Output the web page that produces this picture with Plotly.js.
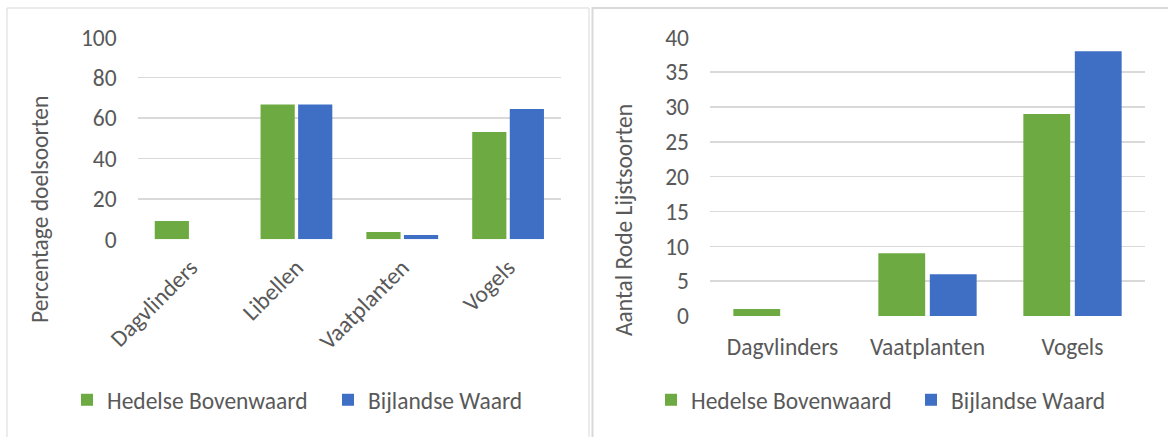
<!DOCTYPE html>
<html>
<head>
<meta charset="utf-8">
<script src="https://cdn.plot.ly/plotly-3.0.1.min.js"></script>
<style>
html,body{margin:0;padding:0;background:#fff;}
#chart{width:1168px;height:437px;}
</style>
</head>
<body>
<div id="chart"></div>
<script>
// ---- data ----
const seriesNames = ["Hedelse Bovenwaard", "Bijlandse Waard"];
const catsPct = ["Dagvlinders", "Libellen", "Vaatplanten", "Vogels"];
const pctHedelse = [9, 66.7, 3.6, 53.1];
const pctBijlandse = [0, 66.7, 2.1, 64.5];
const catsRL = ["Dagvlinders", "Vaatplanten", "Vogels"];
const rlHedelse = [1, 9, 29];
const rlBijlandse = [0, 6, 38];
const yTitleLeft = "Percentage doelsoorten";
const yTitleRight = "Aantal Rode Lijstsoorten";

// ---- styling ----
const W = 1168, H = 437;
const fx = p => p / W;
const fy = p => (H - p) / H;
const GREEN = "#6DAB42", BLUE = "#3F6EC5";
const TXT = "#595959", GRID = "#D9D9D9";
const FONT = "Carlito, Lato, sans-serif";
const FS = 23.5;

const traces = [
  {type: "bar", x: catsPct, y: pctHedelse, name: seriesNames[0], xaxis: "x", yaxis: "y",
   marker: {color: GREEN}, legend: "legend"},
  {type: "bar", x: catsPct, y: pctBijlandse, name: seriesNames[1], xaxis: "x", yaxis: "y",
   marker: {color: BLUE}, legend: "legend2"},
  {type: "bar", x: catsRL, y: rlHedelse, name: seriesNames[0], xaxis: "x2", yaxis: "y2",
   marker: {color: GREEN}, legend: "legend3"},
  {type: "bar", x: catsRL, y: rlBijlandse, name: seriesNames[1], xaxis: "x2", yaxis: "y2",
   marker: {color: BLUE}, legend: "legend4"}
];
traces.forEach(t => { t.hoverinfo = "y"; t.showlegend = true; });

const legendBase = {
  orientation: "h", xanchor: "left", yanchor: "middle", y: fy(400),
  font: {family: FONT, size: FS, color: TXT}, bgcolor: "rgba(0,0,0,0)", borderwidth: 0
};

const axisFont = {family: FONT, size: FS, color: TXT};

const layout = {
  width: W, height: H,
  margin: {l: 0, r: 0, t: 0, b: 0},
  paper_bgcolor: "#fff", plot_bgcolor: "rgba(0,0,0,0)",
  showlegend: true,
  barmode: "group", bargap: 0.29, bargroupgap: 0.09,
  font: {family: FONT, size: FS, color: TXT},
  xaxis: {domain: [fx(137.7), fx(561)], anchor: "y", showgrid: false, zeroline: false,
          showline: false, ticks: "", tickangle: -45, tickfont: axisFont, ticklabelstandoff: 9,
          fixedrange: true},
  yaxis: {domain: [fy(239.3), fy(37.3)], anchor: "x", range: [0, 100], dtick: 20,
          showgrid: true, gridcolor: GRID, gridwidth: 1.5, zeroline: false, showline: false,
          ticks: "", tickfont: axisFont, ticklabelstandoff: 20, fixedrange: true},
  xaxis2: {domain: [fx(710), fx(1145)], anchor: "y2", showgrid: false, zeroline: false,
           showline: false, ticks: "", tickangle: 0, tickfont: axisFont, ticklabelstandoff: 14,
           fixedrange: true},
  yaxis2: {domain: [fy(316), fy(37.3)], anchor: "x2", range: [0, 40], dtick: 5,
           showgrid: true, gridcolor: GRID, gridwidth: 1.5, zeroline: false, showline: false,
           ticks: "", tickfont: axisFont, ticklabelstandoff: 20, fixedrange: true},
  legend: Object.assign({}, legendBase, {x: fx(67)}),
  legend2: Object.assign({}, legendBase, {x: fx(328)}),
  legend3: Object.assign({}, legendBase, {x: fx(651)}),
  legend4: Object.assign({}, legendBase, {x: fx(911)}),
  annotations: [
    {text: yTitleLeft, xref: "paper", yref: "paper", x: fx(40), y: fy(210), textangle: -90,
     showarrow: false, xanchor: "center", yanchor: "middle", font: axisFont},
    {text: yTitleRight, xref: "paper", yref: "paper", x: fx(624), y: fy(220), textangle: -90,
     showarrow: false, xanchor: "center", yanchor: "middle", font: axisFont}
  ],
  shapes: [
    {type: "rect", xref: "paper", yref: "paper", x0: fx(7), x1: fx(589), y0: -0.1, y1: fy(8),
     line: {color: GRID, width: 1}, layer: "below"},
    {type: "rect", xref: "paper", yref: "paper", x0: fx(592.5), x1: 1.1, y0: -0.1, y1: fy(8),
     line: {color: GRID, width: 2}, layer: "below"}
  ]
};

Plotly.newPlot("chart", traces, layout, {displayModeBar: false, staticPlot: true});
</script>
</body>
</html>
